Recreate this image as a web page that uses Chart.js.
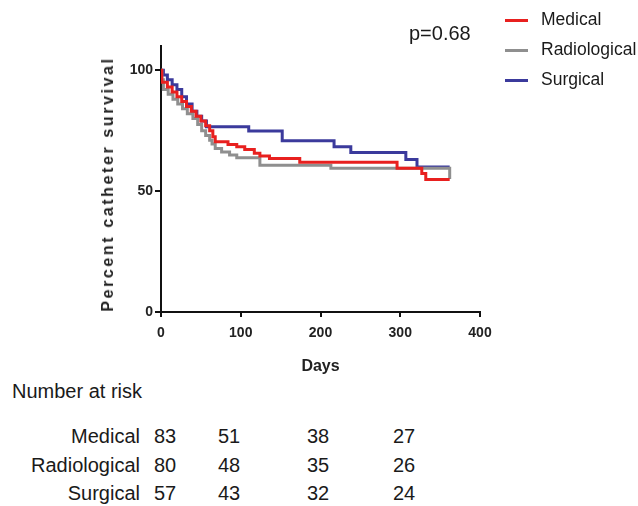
<!DOCTYPE html>
<html>
<head>
<meta charset="utf-8">
<script src="https://cdn.jsdelivr.net/npm/chart.js@4.4.1/dist/chart.umd.min.js"></script>
<style>
  body { margin: 0; background: #fff; }
  #wrap { position: relative; width: 638px; height: 506px; font-family: "Liberation Sans", Arial, sans-serif; color: #1a1a1a; }
  #km { position: absolute; left: 0; top: 0; }
  .abs { position: absolute; white-space: nowrap; }
  .leg { font-size: 17.5px; }
  .swatch { position: absolute; width: 23px; height: 3px; }
  .risk { font-size: 20px; }
</style>
</head>
<body>
<div id="wrap">
  <canvas id="km" width="638" height="380"></canvas>
  <div id="ytitle" class="abs"></div>
  <div id="pval" class="abs"></div>
  <div id="legend"></div>
  <div id="riskTable"></div>
</div>
<script>
// Datos de las curvas (dias / % supervivencia)
const seriesNames = ["Medical", "Radiological", "Surgical"];
const seriesColors = ["#e8201f", "#8f8f8f", "#3b3a9c"];

const medicalDays = [0, 1, 8, 14, 20, 26, 32, 38, 44, 50, 56, 61, 65, 68, 84, 95, 105, 117, 124, 136, 174, 296, 327, 332, 362];
const medicalSurv = [100, 95, 93, 91, 89, 87, 85, 83, 81, 79, 77, 75, 72.5, 70.4, 69.3, 68.3, 67.2, 65.6, 64.5, 63.5, 61.9, 59.4, 57.3, 54.8, 54.8];

const radioDays = [0, 1, 3, 9, 15, 21, 27, 33, 40, 46, 51, 56, 61, 64, 68, 76, 86, 95, 124, 213, 361, 362];
const radioSurv = [100, 96, 92, 90, 88, 86, 84, 82, 80, 77.5, 75, 73, 71, 69.5, 67.6, 66.2, 64.9, 63.8, 60.7, 59.4, 59.4, 55];

const surgDays = [0, 3, 8, 14, 20, 26, 32, 39, 45, 51, 57, 110, 152, 217, 238, 307, 321, 362];
const surgSurv = [100, 98, 96, 94, 92, 89, 86, 83, 81, 79, 76.6, 74.8, 70.8, 68.3, 66.0, 63.1, 60.0, 60.0];

const xTicks = [0, 100, 200, 300, 400];
const yTicks = [0, 50, 100];

const pValue = "p=0.68";
const riskTitle = "Number at risk";
const riskMedical = [83, 51, 38, 27];
const riskRadio = [80, 48, 35, 26];
const riskSurg = [57, 43, 32, 24];

function toPoints(days, surv) {
  return days.map((d, i) => ({ x: d, y: surv[i] }));
}

const allDays = [medicalDays, radioDays, surgDays];
const allSurv = [medicalSurv, radioSurv, surgSurv];

let ctx = document.getElementById('km');
let kmChart = new Chart(ctx, {
  type: 'line',
  data: {
    datasets: seriesNames.map((name, i) => ({
      label: name,
      data: toPoints(allDays[i], allSurv[i]),
      borderColor: seriesColors[i],
      borderWidth: 3,
      pointRadius: 0,
      stepped: true, // horizontal primero, luego la caida (Kaplan-Meier)
      fill: false
    }))
  },
  options: {
    responsive: false,
    animation: false,
    layout: { padding: { top: 46, right: 158, left: 0, bottom: 0 } },
    plugins: { legend: { display: false }, tooltip: { enabled: false } },
    scales: {
      x: {
        type: 'linear', min: 0, max: 400,
        afterBuildTicks: (axis) => { axis.ticks = xTicks.map(v => ({ value: v })); },
        afterFit: (scale) => { scale.height = 68; },
        grid: { drawOnChartArea: false, drawTicks: true, tickLength: 5, color: '#111', lineWidth: 2 },
        border: { display: true, color: '#111', width: 2 },
        ticks: { color: '#222', font: { family: 'Liberation Sans', size: 14, weight: 'bold' }, padding: 8, maxRotation: 0 },
        title: { display: true, text: 'Days', color: '#222', font: { family: 'Liberation Sans', size: 16, weight: 'bold' } }
      },
      y: {
        min: 0, max: 110,
        afterBuildTicks: (axis) => { axis.ticks = yTicks.map(v => ({ value: v })); },
        afterFit: (scale) => { scale.width = 161; },
        grid: { drawOnChartArea: false, drawTicks: true, tickLength: 6, color: '#111', lineWidth: 2 },
        border: { display: true, color: '#111', width: 2 },
        ticks: { color: '#222', font: { family: 'Liberation Sans', size: 14, weight: 'bold' }, padding: 2 }
      }
    }
  }
});

// Titulo del eje Y (con espaciado de letras)
const yt = document.getElementById('ytitle');
yt.textContent = 'Percent catheter survival';
yt.style.cssText += 'font-size:16px;font-weight:bold;letter-spacing:2.6px;color:#222;left:108px;top:184px;transform:translate(-50%,-50%) rotate(-90deg);';

// Valor p
const pv = document.getElementById('pval');
pv.textContent = pValue;
pv.style.cssText += 'font-size:20px;left:409px;top:22px;';

// Leyenda
const legend = document.getElementById('legend');
seriesNames.forEach((name, i) => {
  const cy = 20 + i * 30;
  const sw = document.createElement('div');
  sw.className = 'swatch';
  sw.style.cssText = `left:505px;top:${cy - 1}px;background:${seriesColors[i]};`;
  legend.appendChild(sw);
  const t = document.createElement('div');
  t.className = 'abs leg';
  t.textContent = name;
  t.style.cssText = `left:541px;top:${cy - 11}px;`;
  legend.appendChild(t);
});

// Tabla de numero en riesgo
const table = document.getElementById('riskTable');
const title = document.createElement('div');
title.className = 'abs risk';
title.textContent = riskTitle;
title.style.cssText = 'left:12px;top:380px;';
table.appendChild(title);

const riskRows = [riskMedical, riskRadio, riskSurg];
const colCenters = [165, 229, 318, 404];
riskRows.forEach((row, r) => {
  const top = 425 + r * 28.5;
  const lab = document.createElement('div');
  lab.className = 'abs risk';
  lab.textContent = seriesNames[r];
  lab.style.cssText = `right:${638 - 140}px;top:${top}px;`;
  table.appendChild(lab);
  row.forEach((n, c) => {
    const d = document.createElement('div');
    d.className = 'abs risk';
    d.textContent = n;
    d.style.cssText = `left:${colCenters[c]}px;top:${top}px;transform:translateX(-50%);`;
    table.appendChild(d);
  });
});
</script>
</body>
</html>
